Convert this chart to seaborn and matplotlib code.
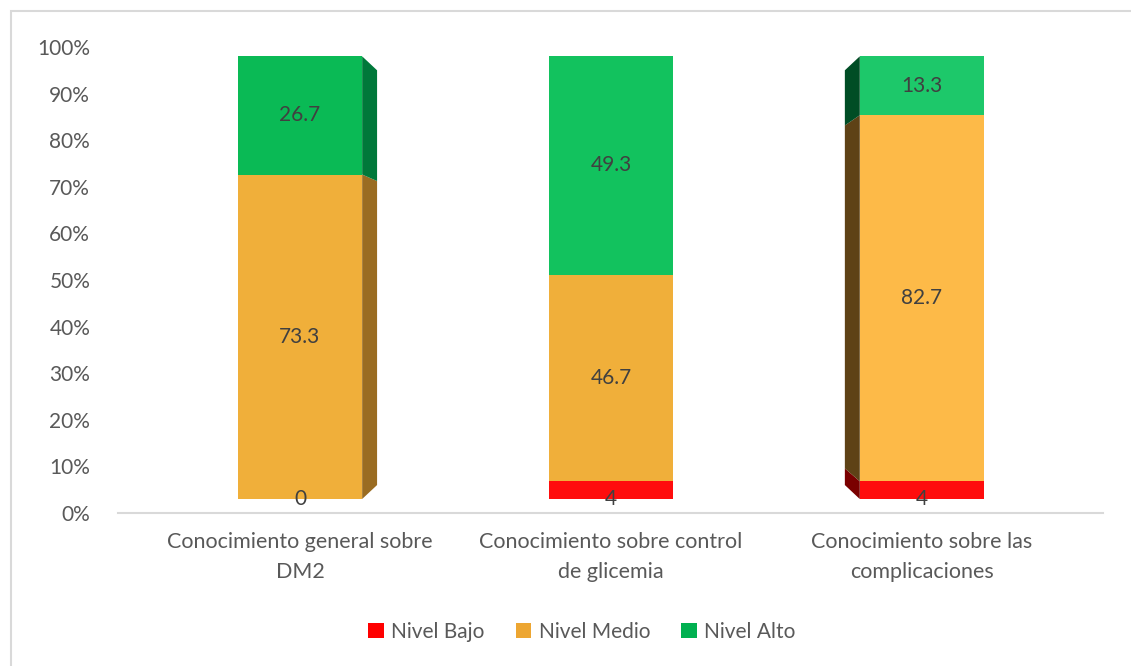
import matplotlib
matplotlib.use("Agg")
import matplotlib.pyplot as plt
from matplotlib.patches import Polygon, Rectangle
import seaborn as sns
import pandas as pd
import numpy as np

# ---- data ----
categories = ["Conocimiento general sobre\nDM2",
              "Conocimiento sobre control\nde glicemia",
              "Conocimiento sobre las\ncomplicaciones"]
series = ["Nivel Bajo", "Nivel Medio", "Nivel Alto"]
nivel_bajo = [0, 4, 4]
nivel_medio = [73.3, 46.7, 82.7]
nivel_alto = [26.7, 49.3, 13.3]
yticks = [0, 10, 20, 30, 40, 50, 60, 70, 80, 90, 100]
ytick_labels = [f"{v}%" for v in yticks]

# ---- style ----
front_colors = {
    "Nivel Bajo": ["#FF0D0D", "#FF0D0D", "#FF0D0D"],
    "Nivel Medio": ["#F0AF3A", "#F0AF3A", "#FDBA48"],
    "Nivel Alto": ["#0ABA55", "#12C25E", "#1DC86A"],
}
side_colors = {
    "Nivel Bajo": ["#8A0000", "#8A0000", "#7A0000"],
    "Nivel Medio": ["#9A6C22", "#9A6C22", "#5E4216"],
    "Nivel Alto": ["#00783A", "#00783A", "#004D25"],
}
legend_colors = ["#FF0000", "#EDA632", "#00B050"]
side_dir = [1, 0, -1]       # which side face is visible
face_lo, face_scale = 3.0, 0.95    # projected front face
back_lo, back_scale = 6.0, 0.89    # projected back face
depth = 0.048
bar_w = 0.40
text_color = "#404040"
tick_color = "#595959"
fs = 15

sns.set_theme(style="white")
plt.rcParams["font.family"] = ["Lato", "DejaVu Sans"]

fig = plt.figure(figsize=(11.31, 6.66), dpi=100)
ax = fig.add_axes([118 / 1131, 1 - 513 / 666, 985 / 1131, 466 / 666])

df = pd.DataFrame({"cat": categories, "Nivel Bajo": nivel_bajo,
                   "Nivel Medio": nivel_medio, "Nivel Alto": nivel_alto})

cum = np.zeros(len(categories))
order = list(range(len(categories)))
for s in series:
    vals = np.array(df[s], dtype=float)
    heights = vals * face_scale
    bottoms = face_lo + cum * face_scale
    n_before = len(ax.patches)
    sns.barplot(x=order, y=heights, bottom=bottoms, order=order,
                color=front_colors[s][0], width=bar_w, ax=ax,
                linewidth=0, saturation=1, native_scale=True, errorbar=None)
    for p, c in zip(ax.patches[n_before:], front_colors[s]):
        p.set_facecolor(c)
        p.set_edgecolor("none")
    # side faces
    for i in order:
        d = side_dir[i]
        if d == 0 or vals[i] == 0:
            continue
        xe = i + d * bar_w / 2
        xb = xe + d * depth
        f0 = face_lo + cum[i] * face_scale
        f1 = face_lo + (cum[i] + vals[i]) * face_scale
        b0 = back_lo + cum[i] * back_scale
        b1 = back_lo + (cum[i] + vals[i]) * back_scale
        ax.add_patch(Polygon([(xe, f0), (xb, b0), (xb, b1), (xe, f1)],
                             closed=True, facecolor=side_colors[s][i],
                             edgecolor="none", zorder=1))
    # labels
    for i in order:
        yc = face_lo + (cum[i] + vals[i] / 2) * face_scale
        if vals[i] < 8:
            yc = face_lo + cum[i] * face_scale
        lbl = f"{vals[i]:g}"
        ax.text(i, yc, lbl, ha="center", va="center", fontsize=fs,
                color=text_color, zorder=5)
    cum += vals

ax.set_xlim(-0.585, 2.582)
ax.set_ylim(0, 100)
ax.set_yticks(yticks)
ax.set_yticklabels(ytick_labels, fontsize=fs, color=tick_color)
ax.set_xticks(order)
ax.set_xticklabels(categories, fontsize=15.5, color=tick_color, linespacing=1.6)
ax.tick_params(axis="y", length=0, pad=20)
ax.tick_params(axis="x", length=0, pad=14)
for sp in ["top", "right", "left"]:
    ax.spines[sp].set_visible(False)
ax.spines["bottom"].set_color("#D9D9D9")
ax.spines["bottom"].set_linewidth(1.5)
ax.set_xlabel("")
ax.set_ylabel("")

handles = [Rectangle((0, 0), 1, 1, facecolor=c, edgecolor="none") for c in legend_colors]
fig.legend(handles, series, loc="center", bbox_to_anchor=(582 / 1131, 1 - 632 / 666),
           ncol=3, frameon=False, fontsize=fs, handlelength=0.75, handleheight=0.75,
           handletextpad=0.35, columnspacing=1.5, labelcolor=tick_color)

# outer chart border (partially cropped in reference)
fig.add_artist(Rectangle((11 / 1131, -0.05), 1.2, 1 - 11 / 666 + 0.05,
                         transform=fig.transFigure, facecolor="none",
                         edgecolor="#D9D9D9", linewidth=1.5))

fig.savefig("out.png", dpi=100)
